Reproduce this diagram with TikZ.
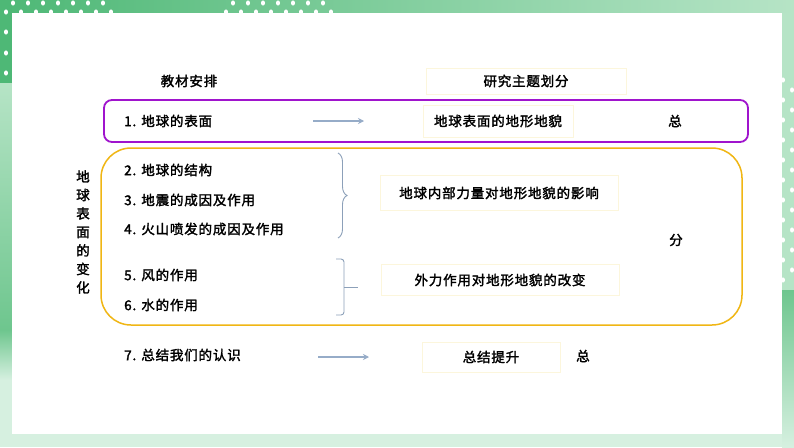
\documentclass[tikz,border=0pt]{standalone}
\usepackage{fontspec}
\setmainfont{Noto Sans CJK SC}[AutoFakeBold=2,LetterSpace=6]
\usetikzlibrary{decorations.pathreplacing,arrows.meta}
\definecolor{gdark}{RGB}{78,184,118}
\definecolor{glight}{RGB}{182,228,198}
\definecolor{gpale}{RGB}{214,240,224}
\definecolor{gmid}{RGB}{110,198,142}
\definecolor{purp}{RGB}{160,20,205}
\definecolor{gold}{RGB}{240,182,20}
\definecolor{arrowc}{RGB}{150,172,200}
\definecolor{bracec}{RGB}{140,160,185}
\definecolor{faint}{RGB}{252,246,220}
\tikzset{
  txt/.style={font=\fontsize{13.5}{16}\selectfont\bfseries, inner sep=0pt},
  item/.style={txt, anchor=west},
  topicbox/.style={txt, draw=faint, line width=1pt, fill=white},
  arr/.style={draw=arrowc, line width=1.8pt, -{Stealth[length=6pt,width=6pt]}},
  dot/.style={fill=white, draw=none},
}
\begin{document}
\begin{tikzpicture}[x=1pt,y=-1pt]
\useasboundingbox (0,0) rectangle (794,447);
% frame
\fill[gpale] (0,0) rectangle (794,447);
\shade[left color=gdark, right color=glight] (0,0) rectangle (794,13);
\fill[gdark] (0,0) rectangle (12,83);
\shade[top color=glight, bottom color=gmid] (0,83) rectangle (12,330);
\shade[top color=gmid, bottom color=gpale] (0,330) rectangle (12,380);
\fill[glight] (782,13) rectangle (794,290);
\shade[top color=gmid, bottom color=gpale] (782,290) rectangle (794,447);
\foreach \x in {13,28,43,58,73,88,103,233,248,263,278,293,308,323} \fill[dot] (\x,3) ellipse (2 and 2.6);
\foreach \x in {6,21,36,51,66,81,96,111,226,241,256,271,286,301,316,331} \fill[dot] (\x,12) ellipse (2 and 2.6);
\foreach \y in {32,53,73} \fill[dot] (6,\y) ellipse (2 and 2.6);
\foreach \y in {80,100,...,280} \fill[dot] (783,\y) ellipse (2 and 2.6);
\foreach \y in {90,110,...,270} \fill[dot] (792,\y) ellipse (2 and 2.6);
\fill[white] (12,13) rectangle (782,434);
% headings
\node[txt] (h1) at (189,81) {教材安排};
\node[topicbox, minimum width=200pt, minimum height=26pt] (h2) at (526,81) {研究主题划分};
% purple group
\draw[purp, line width=1.8pt, rounded corners=8pt] (104,100) rectangle (748,142);
\node[item] (i1) at (124,121) {1. 地球的表面};
\node[topicbox, minimum width=150pt, minimum height=32pt] (t1) at (498,121) {地球表面的地形地貌};
\coordinate (a1s) at (313,121);
\coordinate (a1e) at (364,121);
\draw[arr] (a1s) -- (a1e);
\node[txt] (z1) at (675,121) {总};
% gold group
\draw[gold, line width=1.5pt, rounded corners=30pt] (101,148) rectangle (742,325);
\node[txt, align=center, font=\fontsize{13.5}{18.5}\selectfont\bfseries] (side) at (83,232) {地\\球\\表\\面\\的\\变\\化};
\node[item] (i2) at (124,170) {2. 地球的结构};
\node[item] (i3) at (124,200) {3. 地震的成因及作用};
\node[item] (i4) at (124,229) {4. 火山喷发的成因及作用};
\node[item] (i5) at (124,275) {5. 风的作用};
\node[item] (i6) at (124,305) {6. 水的作用};
\coordinate (b1t) at (338,153);
\coordinate (b1b) at (338,238);
\draw[bracec, line width=0.9pt, decorate, decoration={brace, amplitude=9pt}] (b1t) -- (b1b);
\coordinate (b2t) at (336,259);
\coordinate (b2b) at (336,315);
\coordinate (b2m) at (344,287);
\coordinate (b2tip) at (358,287);
\draw[bracec, line width=0.9pt, rounded corners=3pt] (b2t) -| (344,315) -- (b2b);
\draw[bracec, line width=0.9pt] (b2m) -- (b2tip);
\node[topicbox, minimum width=238pt, minimum height=35pt] (t2) at (499,193) {地球内部力量对地形地貌的影响};
\node[topicbox, minimum width=238pt, minimum height=31pt] (t3) at (500,280) {外力作用对地形地貌的改变};
\node[txt] (f1) at (676,240) {分};
% last row
\node[item] (i7) at (124,355) {7. 总结我们的认识};
\coordinate (a2s) at (318,357);
\coordinate (a2e) at (369,357);
\draw[arr] (a2s) -- (a2e);
\node[topicbox, minimum width=138pt, minimum height=30pt] (t4) at (491,357) {总结提升};
\node[txt] (z2) at (583,356) {总};
\end{tikzpicture}
\end{document}
